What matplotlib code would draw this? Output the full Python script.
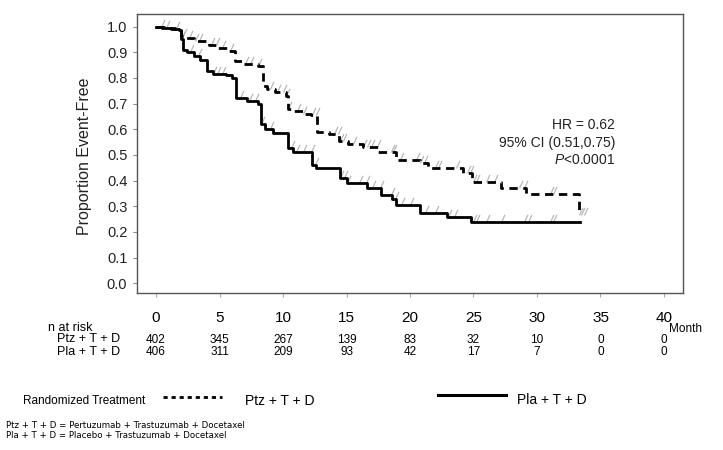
import matplotlib
matplotlib.use("Agg")
import matplotlib.pyplot as plt
from matplotlib.path import Path
from matplotlib.lines import Line2D
import matplotlib.transforms as mtransforms
import numpy as np

# ---------------- data ----------------
ptz_t = [0, 0.6, 1.5, 2.0, 2.3, 3.0, 4.2, 4.8, 5.6, 6.2, 6.8, 8.0, 8.4, 8.7, 9.4,
         10.2, 10.4, 10.8, 11.6, 12.2, 12.7, 13.6, 14.4, 15.1, 16.3, 17.5, 18.9,
         20.8, 21.4, 24.2, 24.9, 27.2, 29.1, 33.3]
ptz_s = [1.0, 0.995, 0.99, 0.965, 0.955, 0.945, 0.93, 0.915, 0.905, 0.865, 0.855,
         0.845, 0.77, 0.755, 0.745, 0.73, 0.68, 0.67, 0.66, 0.655, 0.59, 0.58,
         0.555, 0.543, 0.53, 0.512, 0.48, 0.467, 0.45, 0.43, 0.396, 0.37, 0.348, 0.266]

pla_t = [0, 0.5, 1.2, 1.8, 2.0, 2.1, 2.4, 3.0, 3.5, 4.0, 4.5, 5.5, 6.0, 6.3, 7.2,
         8.0, 8.3, 8.6, 9.2, 10.4, 10.8, 12.3, 12.6, 14.5, 15.0, 16.6, 17.7, 18.6,
         18.9, 20.8, 22.9, 24.8, 33.4]
pla_s = [1.0, 0.995, 0.99, 0.985, 0.95, 0.91, 0.90, 0.885, 0.87, 0.825, 0.815,
         0.81, 0.80, 0.72, 0.71, 0.70, 0.62, 0.60, 0.585, 0.526, 0.513, 0.461,
         0.448, 0.409, 0.39, 0.37, 0.344, 0.33, 0.305, 0.273, 0.26, 0.24, 0.24]

ptz_cens = [0.8, 1.6, 2.1, 2.6, 3.1, 3.4, 4.3, 4.7, 5.2, 5.8, 7.0, 7.4, 8.0, 9.0,
            9.5, 10.0, 10.2, 10.4, 11.1, 11.6, 12.3, 12.6, 14.0, 14.3, 14.5, 14.7,
            15.5, 16.3, 16.6, 16.9, 17.4, 18.5, 18.7, 19.2, 20.5, 20.8, 21.1, 22.0,
            22.2, 23.6, 24.5, 24.7, 25.0, 25.2, 26.0, 26.6, 28.6, 29.0, 31.0, 31.3,
            33.3, 33.5, 33.7]
pla_cens = [0.4, 2.0, 2.7, 3.3, 4.5, 4.8, 5.2, 6.6, 7.3, 7.8, 8.3, 9.0, 10.6,
            11.0, 11.6, 12.2, 12.5, 14.5, 14.8, 15.0, 16.0, 16.5, 17.0, 17.6, 18.5,
            18.8, 19.3, 20.0, 21.2, 22.0, 23.0, 23.5, 25.0, 25.2, 26.0, 27.2, 29.0,
            29.3, 31.0, 31.3]

risk_times = [0, 5, 10, 15, 20, 25, 30, 35, 40]
risk_ptz = [402, 345, 267, 139, 83, 32, 10, 0, 0]
risk_pla = [406, 311, 209, 93, 42, 17, 7, 0, 0]

x_ticks = [0, 5, 10, 15, 20, 25, 30, 35, 40]
y_ticks = [0.0, 0.1, 0.2, 0.3, 0.4, 0.5, 0.6, 0.7, 0.8, 0.9, 1.0]

arm_labels = ["Ptz + T + D", "Pla + T + D"]

# ---------------- figure ----------------
plt.rcParams["mathtext.fontset"] = "custom"
plt.rcParams["mathtext.it"] = "Liberation Sans:italic"
plt.rcParams["mathtext.rm"] = "Liberation Sans"

W, H = 723, 450
fig = plt.figure(figsize=(W / 100, H / 100), dpi=100)
fig.patch.set_facecolor("white")

NARROW = ["Liberation Sans Narrow", "DejaVu Sans Condensed", "Liberation Sans"]
SANS = ["Liberation Sans", "DejaVu Sans"]

def fx(px):
    return px / W

def fy(py):
    return 1 - py / H

ax = fig.add_axes([fx(137), fy(293), fx(683) - fx(137), fy(14) - fy(293)])
ax.set_xlim(-1.5, 41.5)
ax.set_ylim(-0.038, 1.049)

def step_val(ts, ss, t):
    idx = np.searchsorted(np.array(ts), t, side="right") - 1
    idx = max(0, min(idx, len(ss) - 1))
    return ss[idx]

# censor marks
cens_marker = Path([(0, 0), (0.45, 1.0)], [Path.MOVETO, Path.LINETO])
for ts, ss, cens in [(ptz_t, ptz_s, ptz_cens), (pla_t, pla_s, pla_cens)]:
    cy = [step_val(ts, ss, c) for c in cens]
    ax.plot(cens, cy, linestyle="none", marker=cens_marker, markersize=11,
            markeredgecolor="#b8b8b8", markeredgewidth=0.9, zorder=2)

ax.step(ptz_t, ptz_s, where="post", color="black", lw=2.0,
        linestyle=(0, (3.0, 2.0)), zorder=3)
ax.step(pla_t, pla_s, where="post", color="black", lw=2.0, zorder=3)

for s in ax.spines.values():
    s.set_color("#555555")
    s.set_linewidth(1.0)

ax.set_yticks(y_ticks)
ax.set_yticklabels([f"{v:.1f}" for v in y_ticks], family=SANS, fontsize=10.5,
                   color="#222222")
ax.set_xticks(x_ticks)
ax.set_xticklabels([str(v) for v in x_ticks], family=NARROW, fontsize=11)
ax.tick_params(axis="y", length=3, color="#888888", pad=4)
ax.tick_params(axis="x", length=3, color="#aaaaaa", pad=10)

fig.text(fx(84), fy(156), "Proportion Event-Free", rotation=90, ha="center",
         va="center", family=SANS, fontsize=11.5, color="#222222")

# HR annotation
for txt, py in [("HR = 0.62", 125), ("95% CI (0.51,0.75)", 143)]:
    fig.text(fx(615), fy(py), txt, ha="right", va="center", family=SANS,
             fontsize=10, color="#222222")
fig.text(fx(615), fy(160), r"$\mathit{P}$<0.0001", ha="right", va="center",
         family=SANS, fontsize=10, color="#222222")

# risk table
blend = mtransforms.blended_transform_factory(ax.transData, fig.transFigure)
fig.text(fx(48), fy(328), "n at risk", ha="left", va="center", family=NARROW,
         fontsize=9)
fig.text(fx(57), fy(339), arm_labels[0], ha="left", va="center", family=NARROW,
         fontsize=9)
fig.text(fx(57), fy(352), arm_labels[1], ha="left", va="center", family=NARROW,
         fontsize=9)
for t, a, b in zip(risk_times, risk_ptz, risk_pla):
    ax.text(t, fy(340), str(a), transform=blend, ha="center", va="center",
            family=NARROW, fontsize=8.5)
    ax.text(t, fy(352), str(b), transform=blend, ha="center", va="center",
            family=NARROW, fontsize=8.5)
fig.text(fx(669), fy(329), "Month", ha="left", va="center", family=NARROW,
         fontsize=8.5)

# legend
fig.text(fx(23), fy(401), "Randomized Treatment", ha="left", va="center",
         family=NARROW, fontsize=8.5)
fig.add_artist(Line2D([fx(163), fx(222)], [fy(397), fy(397)], color="black",
                      lw=2.0, linestyle=(0, (1.5, 1.4)),
                      transform=fig.transFigure))
fig.text(fx(245), fy(401), arm_labels[0], ha="left", va="center",
         family=NARROW, fontsize=10)
fig.add_artist(Line2D([fx(438), fx(506)], [fy(395), fy(395)], color="black",
                      lw=2.2, transform=fig.transFigure))
fig.text(fx(517), fy(400), arm_labels[1], ha="left", va="center",
         family=NARROW, fontsize=10)

# footnotes
fig.text(fx(6), fy(426), "Ptz + T + D = Pertuzumab + Trastuzumab + Docetaxel",
         ha="left", va="center", family=["DejaVu Sans"], fontsize=6.2)
fig.text(fx(6), fy(435), "Pla + T + D = Placebo + Trastuzumab + Docetaxel",
         ha="left", va="center", family=["DejaVu Sans"], fontsize=6.2)

fig.savefig("out.png", dpi=100, facecolor="white")
